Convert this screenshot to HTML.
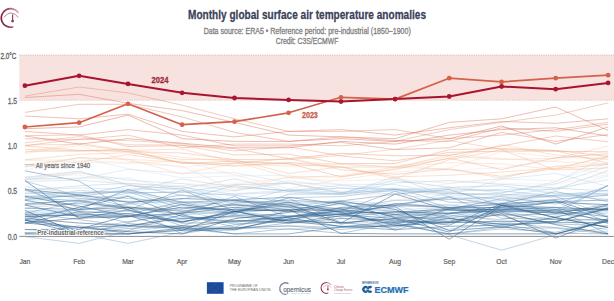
<!DOCTYPE html>
<html><head><meta charset="utf-8"><style>
html,body{margin:0;padding:0;background:#fff;width:614px;height:301px;overflow:hidden}
svg{display:block;font-family:"Liberation Sans",sans-serif}
</style></head><body>
<svg width="614" height="301" viewBox="0 0 614 301">
<rect x="19.3" y="55" width="595" height="45.4" fill="#f7e2df"/>
<line x1="19.3" y1="55" x2="614" y2="55" stroke="#bba5a3" stroke-width="0.7" stroke-dasharray="1,1.25"/>
<line x1="19.3" y1="100.3" x2="614" y2="100.3" stroke="#cdbab8" stroke-width="0.6" stroke-dasharray="1,1.25"/>
<g fill="none" stroke-width="0.75" stroke-linejoin="miter">
<polyline points="24.9,181.2 79.1,196.0 128.0,206.4 182.1,214.6 234.5,212.2 288.6,197.7 341.0,196.6 395.1,189.8 449.2,193.7 501.6,194.2 555.7,196.5 608.1,216.0" stroke="#235584" stroke-opacity="0.35"/><polyline points="24.9,170.8 79.1,181.1 128.0,210.2 182.1,223.2 234.5,222.2 288.6,217.5 341.0,207.3 395.1,205.0 449.2,197.7 501.6,205.0 555.7,199.4 608.1,195.2" stroke="#235584" stroke-opacity="0.50"/><polyline points="24.9,195.9 79.1,196.4 128.0,190.3 182.1,205.1 234.5,214.4 288.6,215.6 341.0,213.9 395.1,205.6 449.2,204.8 501.6,211.3 555.7,220.0 608.1,220.4" stroke="#235685" stroke-opacity="0.35"/><polyline points="24.9,190.5 79.1,198.3 128.0,202.1 182.1,219.5 234.5,213.7 288.6,198.0 341.0,222.5 395.1,219.1 449.2,215.0 501.6,219.8 555.7,209.2 608.1,209.0" stroke="#245685" stroke-opacity="0.35"/><polyline points="24.9,189.5 79.1,194.9 128.0,202.2 182.1,198.5 234.5,200.3 288.6,204.9 341.0,223.0 395.1,194.0 449.2,210.3 501.6,209.4 555.7,211.2 608.1,209.4" stroke="#466482" stroke-opacity="0.75"/><polyline points="24.9,200.3 79.1,209.4 128.0,207.6 182.1,211.2 234.5,204.9 288.6,209.4 341.0,211.2 395.1,206.7 449.2,239.3 501.6,205.8 555.7,217.6 608.1,227.5" stroke="#466482" stroke-opacity="0.75"/><polyline points="24.9,223.0 79.1,227.5 128.0,225.7 182.1,218.5 234.5,216.7 288.6,220.3 341.0,223.0 395.1,218.5 449.2,232.1 501.6,204.9 555.7,217.6 608.1,227.5" stroke="#245786" stroke-opacity="0.72"/><polyline points="24.9,216.4 79.1,209.9 128.0,203.5 182.1,195.0 234.5,201.2 288.6,206.9 341.0,224.3 395.1,214.7 449.2,221.7 501.6,223.9 555.7,233.3 608.1,233.9" stroke="#245786" stroke-opacity="0.45"/><polyline points="24.9,210.3 79.1,233.9 128.0,233.9 182.1,230.4 234.5,211.4 288.6,209.6 341.0,233.4 395.1,233.9 449.2,233.9 501.6,233.9 555.7,233.9 608.1,221.3" stroke="#245887" stroke-opacity="0.72"/><polyline points="24.9,214.5 79.1,215.5 128.0,214.1 182.1,201.8 234.5,204.8 288.6,207.4 341.0,208.5 395.1,230.3 449.2,213.8 501.6,208.0 555.7,209.1 608.1,233.9" stroke="#245887" stroke-opacity="0.45"/><polyline points="24.9,236.6 79.1,243.4 128.0,231.2 182.1,225.7 234.5,227.5 288.6,229.3 341.0,227.5 395.1,225.7 449.2,229.3 501.6,223.0 555.7,227.5 608.1,232.1" stroke="#78a0c3" stroke-opacity="0.60"/><polyline points="24.9,214.4 79.1,231.0 128.0,226.9 182.1,214.8 234.5,227.1 288.6,210.1 341.0,209.4 395.1,214.7 449.2,213.7 501.6,210.6 555.7,213.1 608.1,206.2" stroke="#255988" stroke-opacity="0.45"/><polyline points="24.9,223.0 79.1,211.7 128.0,213.7 182.1,222.2 234.5,212.0 288.6,202.1 341.0,212.3 395.1,225.5 449.2,222.6 501.6,221.2 555.7,221.6 608.1,207.9" stroke="#255988" stroke-opacity="0.72"/><polyline points="24.9,188.3 79.1,212.1 128.0,222.5 182.1,212.7 234.5,203.2 288.6,200.2 341.0,202.8 395.1,205.8 449.2,207.4 501.6,204.8 555.7,209.6 608.1,208.4" stroke="#255988" stroke-opacity="0.45"/><polyline points="24.9,223.1 79.1,218.1 128.0,216.9 182.1,204.5 234.5,211.4 288.6,221.3 341.0,226.3 395.1,226.2 449.2,218.4 501.6,224.5 555.7,221.9 608.1,208.6" stroke="#255a89" stroke-opacity="0.72"/><polyline points="24.9,233.9 79.1,233.9 128.0,228.5 182.1,225.7 234.5,229.7 288.6,222.9 341.0,222.3 395.1,228.5 449.2,207.8 501.6,213.4 555.7,223.9 608.1,225.9" stroke="#265a89" stroke-opacity="0.45"/><polyline points="24.9,229.3 79.1,233.9 128.0,243.4 182.1,232.1 234.5,227.5 288.6,225.7 341.0,227.5 395.1,223.0 449.2,234.8 501.6,250.2 555.7,234.8 608.1,227.5" stroke="#78a0c3" stroke-opacity="0.60"/><polyline points="24.9,215.5 79.1,233.9 128.0,230.6 182.1,214.9 234.5,224.0 288.6,220.0 341.0,209.5 395.1,204.5 449.2,196.6 501.6,218.3 555.7,219.2 608.1,219.6" stroke="#265b8a" stroke-opacity="0.45"/><polyline points="24.9,180.5 79.1,218.5 128.0,209.9 182.1,221.9 234.5,211.1 288.6,222.9 341.0,215.8 395.1,203.6 449.2,207.8 501.6,207.4 555.7,202.2 608.1,204.7" stroke="#265b8a" stroke-opacity="0.72"/><polyline points="24.9,203.6 79.1,200.5 128.0,209.8 182.1,190.1 234.5,211.0 288.6,205.7 341.0,212.4 395.1,212.8 449.2,208.4 501.6,209.9 555.7,207.3 608.1,223.6" stroke="#265b8a" stroke-opacity="0.45"/><polyline points="24.9,220.2 79.1,227.3 128.0,231.7 182.1,233.9 234.5,218.7 288.6,212.5 341.0,203.2 395.1,217.7 449.2,218.0 501.6,227.5 555.7,217.2 608.1,204.8" stroke="#265c8b" stroke-opacity="0.72"/><polyline points="24.9,204.3 79.1,200.2 128.0,207.4 182.1,226.0 234.5,208.7 288.6,211.4 341.0,217.1 395.1,212.0 449.2,209.1 501.6,198.7 555.7,213.4 608.1,204.0" stroke="#265c8b" stroke-opacity="0.45"/><polyline points="24.9,196.3 79.1,206.1 128.0,216.1 182.1,207.2 234.5,209.7 288.6,211.0 341.0,201.1 395.1,209.4 449.2,230.6 501.6,226.7 555.7,233.9 608.1,220.1" stroke="#275c8b" stroke-opacity="0.72"/><polyline points="24.9,216.6 79.1,215.1 128.0,207.4 182.1,209.3 234.5,200.1 288.6,206.4 341.0,200.9 395.1,194.2 449.2,189.5 501.6,205.6 555.7,201.8 608.1,222.1" stroke="#275d8c" stroke-opacity="0.45"/><polyline points="24.9,218.5 79.1,223.0 128.0,225.7 182.1,227.5 234.5,220.3 288.6,223.0 341.0,218.5 395.1,220.3 449.2,223.0 501.6,213.9 555.7,238.0 608.1,218.5" stroke="#466482" stroke-opacity="0.75"/><polyline points="24.9,233.9 79.1,225.8 128.0,233.9 182.1,229.5 234.5,228.1 288.6,226.1 341.0,229.5 395.1,224.7 449.2,209.3 501.6,215.1 555.7,214.3 608.1,210.1" stroke="#275d8c" stroke-opacity="0.45"/><polyline points="24.9,229.6 79.1,229.1 128.0,215.6 182.1,230.3 234.5,229.9 288.6,216.5 341.0,210.9 395.1,214.3 449.2,209.6 501.6,212.2 555.7,224.7 608.1,233.9" stroke="#275e8d" stroke-opacity="0.72"/><polyline points="24.9,212.9 79.1,219.6 128.0,226.1 182.1,228.5 234.5,233.9 288.6,228.7 341.0,233.3 395.1,223.3 449.2,233.9 501.6,227.2 555.7,228.1 608.1,233.9" stroke="#285e8d" stroke-opacity="0.45"/><polyline points="24.9,220.2 79.1,233.9 128.0,233.9 182.1,228.1 234.5,228.7 288.6,219.0 341.0,213.9 395.1,211.7 449.2,213.3 501.6,206.0 555.7,207.4 608.1,209.9" stroke="#285e8d" stroke-opacity="0.72"/><polyline points="24.9,213.3 79.1,201.7 128.0,208.4 182.1,213.5 234.5,196.6 288.6,217.5 341.0,210.9 395.1,191.3 449.2,207.8 501.6,203.7 555.7,191.7 608.1,201.5" stroke="#285f8e" stroke-opacity="0.45"/><polyline points="24.9,205.0 79.1,216.8 128.0,216.6 182.1,213.4 234.5,207.3 288.6,211.0 341.0,214.3 395.1,222.8 449.2,222.2 501.6,211.6 555.7,212.2 608.1,220.4" stroke="#285f8e" stroke-opacity="0.72"/><polyline points="24.9,205.0 79.1,203.8 128.0,207.2 182.1,233.9 234.5,224.8 288.6,220.1 341.0,207.7 395.1,211.1 449.2,217.0 501.6,215.4 555.7,233.9 608.1,221.0" stroke="#2c6392" stroke-opacity="0.45"/><polyline points="24.9,220.0 79.1,207.3 128.0,196.3 182.1,216.5 234.5,221.6 288.6,216.6 341.0,214.7 395.1,218.4 449.2,225.2 501.6,203.6 555.7,200.6 608.1,217.2" stroke="#2f6797" stroke-opacity="0.72"/><polyline points="24.9,199.4 79.1,194.9 128.0,185.7 182.1,188.9 234.5,204.5 288.6,203.9 341.0,223.3 395.1,222.4 449.2,216.2 501.6,208.0 555.7,213.7 608.1,211.8" stroke="#326b9b" stroke-opacity="0.35"/><polyline points="24.9,217.0 79.1,214.1 128.0,216.0 182.1,221.4 234.5,215.3 288.6,217.9 341.0,226.5 395.1,229.7 449.2,226.3 501.6,225.3 555.7,222.6 608.1,222.4" stroke="#366f9f" stroke-opacity="0.72"/><polyline points="24.9,219.7 79.1,229.8 128.0,221.7 182.1,212.0 234.5,211.8 288.6,216.8 341.0,214.3 395.1,224.5 449.2,233.9 501.6,228.9 555.7,232.2 608.1,220.4" stroke="#3a73a4" stroke-opacity="0.45"/><polyline points="24.9,233.9 79.1,233.9 128.0,223.7 182.1,226.9 234.5,233.9 288.6,233.9 341.0,227.0 395.1,221.5 449.2,221.2 501.6,210.3 555.7,210.7 608.1,216.8" stroke="#3d77a8" stroke-opacity="0.72"/><polyline points="24.9,193.2 79.1,192.6 128.0,191.8 182.1,208.6 234.5,210.1 288.6,203.9 341.0,208.8 395.1,200.3 449.2,199.6 501.6,196.6 555.7,204.1 608.1,185.7" stroke="#407bac" stroke-opacity="0.50"/><polyline points="24.9,208.3 79.1,209.3 128.0,189.4 182.1,202.4 234.5,199.7 288.6,197.3 341.0,203.9 395.1,217.1 449.2,213.3 501.6,209.9 555.7,201.7 608.1,200.0" stroke="#447fb0" stroke-opacity="0.72"/><polyline points="24.9,200.2 79.1,199.0 128.0,201.1 182.1,203.6 234.5,207.4 288.6,202.0 341.0,213.2 395.1,215.9 449.2,212.1 501.6,222.0 555.7,219.0 608.1,230.1" stroke="#4883b5" stroke-opacity="0.35"/><polyline points="24.9,199.3 79.1,195.4 128.0,198.5 182.1,202.1 234.5,214.0 288.6,194.1 341.0,194.0 395.1,189.0 449.2,202.2 501.6,203.5 555.7,212.8 608.1,185.4" stroke="#4b87b9" stroke-opacity="0.50"/><polyline points="24.9,207.9 79.1,203.2 128.0,195.5 182.1,211.3 234.5,220.9 288.6,220.1 341.0,216.2 395.1,220.1 449.2,210.2 501.6,202.6 555.7,195.0 608.1,190.0" stroke="#518cbc" stroke-opacity="0.35"/><polyline points="24.9,190.0 79.1,208.0 128.0,211.4 182.1,217.9 234.5,221.8 288.6,215.8 341.0,211.8 395.1,205.6 449.2,219.1 501.6,223.5 555.7,216.0 608.1,213.2" stroke="#5790c0" stroke-opacity="0.35"/><polyline points="24.9,196.3 79.1,201.7 128.0,193.2 182.1,192.0 234.5,195.3 288.6,202.1 341.0,201.9 395.1,222.3 449.2,218.8 501.6,208.2 555.7,210.1 608.1,185.8" stroke="#5d95c4" stroke-opacity="0.50"/><polyline points="24.9,214.6 79.1,211.9 128.0,211.1 182.1,204.6 234.5,199.9 288.6,202.7 341.0,210.9 395.1,209.5 449.2,208.0 501.6,200.5 555.7,199.8 608.1,207.6" stroke="#639ac7" stroke-opacity="0.35"/><polyline points="24.9,212.2 79.1,213.7 128.0,217.0 182.1,212.7 234.5,212.9 288.6,209.2 341.0,204.6 395.1,207.9 449.2,192.2 501.6,200.2 555.7,195.5 608.1,199.1" stroke="#699eca" stroke-opacity="0.35"/><polyline points="24.9,211.0 79.1,210.7 128.0,204.5 182.1,199.3 234.5,185.7 288.6,191.1 341.0,188.0 395.1,189.4 449.2,188.8 501.6,190.9 555.7,196.1 608.1,194.6" stroke="#6fa3ce" stroke-opacity="0.50"/><polyline points="24.9,186.4 79.1,194.6 128.0,191.6 182.1,178.9 234.5,187.4 288.6,190.7 341.0,185.4 395.1,189.3 449.2,196.2 501.6,192.7 555.7,183.8 608.1,166.5" stroke="#75a8d2" stroke-opacity="0.35"/><polyline points="24.9,179.6 79.1,172.8 128.0,180.2 182.1,183.6 234.5,190.5 288.6,182.8 341.0,192.2 395.1,188.2 449.2,192.7 501.6,195.9 555.7,188.3 608.1,179.8" stroke="#7badd5" stroke-opacity="0.35"/><polyline points="24.9,197.7 79.1,190.6 128.0,192.6 182.1,192.2 234.5,184.7 288.6,183.2 341.0,193.0 395.1,180.3 449.2,187.3 501.6,185.8 555.7,193.7 608.1,193.8" stroke="#81b1d8" stroke-opacity="0.50"/><polyline points="24.9,177.4 79.1,171.1 128.0,184.8 182.1,195.4 234.5,202.7 288.6,189.3 341.0,192.4 395.1,191.2 449.2,191.3 501.6,189.3 555.7,189.3 608.1,170.6" stroke="#87b6dc" stroke-opacity="0.50"/><polyline points="24.9,190.3 79.1,185.9 128.0,183.2 182.1,187.2 234.5,194.4 288.6,191.9 341.0,194.7 395.1,182.8 449.2,180.6 501.6,184.3 555.7,188.1 608.1,191.1" stroke="#8fbbde" stroke-opacity="0.50"/><polyline points="24.9,197.8 79.1,193.5 128.0,190.2 182.1,188.8 234.5,178.8 288.6,191.3 341.0,193.7 395.1,177.1 449.2,197.0 501.6,198.9 555.7,195.3 608.1,193.0" stroke="#98c0e0" stroke-opacity="0.50"/><polyline points="24.9,190.2 79.1,187.9 128.0,189.2 182.1,186.1 234.5,201.9 288.6,204.4 341.0,200.3 395.1,204.3 449.2,205.9 501.6,195.7 555.7,197.8 608.1,190.4" stroke="#a0c5e2" stroke-opacity="0.50"/><polyline points="24.9,181.3 79.1,180.1 128.0,184.1 182.1,195.6 234.5,193.8 288.6,190.1 341.0,194.3 395.1,193.6 449.2,187.1 501.6,193.1 555.7,181.8 608.1,156.2" stroke="#a8cae4" stroke-opacity="0.50"/><polyline points="24.9,178.3 79.1,178.8 128.0,169.3 182.1,173.3 234.5,172.7 288.6,182.8 341.0,184.3 395.1,184.5 449.2,194.9 501.6,179.2 555.7,173.4 608.1,186.3" stroke="#b1cfe6" stroke-opacity="0.50"/><polyline points="24.9,179.8 79.1,177.8 128.0,178.0 182.1,191.2 234.5,191.1 288.6,180.5 341.0,188.0 395.1,194.5 449.2,199.3 501.6,200.3 555.7,190.4 608.1,175.8" stroke="#b9d4e8" stroke-opacity="0.50"/><polyline points="24.9,170.0 79.1,157.2 128.0,168.7 182.1,177.7 234.5,175.9 288.6,175.3 341.0,185.1 395.1,190.8 449.2,183.6 501.6,178.9 555.7,180.8 608.1,163.1" stroke="#d0dce6" stroke-opacity="0.50"/><polyline points="24.9,159.2 79.1,160.4 128.0,162.3 182.1,167.3 234.5,162.4 288.6,158.2 341.0,167.3 395.1,163.8 449.2,170.6 501.6,167.6 555.7,160.6 608.1,150.9" stroke="#e8e4e4" stroke-opacity="0.60"/><polyline points="24.9,177.0 79.1,174.9 128.0,185.6 182.1,183.4 234.5,187.5 288.6,183.5 341.0,191.0 395.1,200.0 449.2,191.0 501.6,183.7 555.7,184.2 608.1,174.6" stroke="#eddfd7" stroke-opacity="0.60"/><polyline points="24.9,177.8 79.1,172.6 128.0,183.9 182.1,186.0 234.5,184.0 288.6,177.9 341.0,181.1 395.1,179.2 449.2,183.2 501.6,178.3 555.7,166.2 608.1,173.7" stroke="#f1dbc9" stroke-opacity="0.60"/><polyline points="24.9,160.3 79.1,162.1 128.0,163.4 182.1,160.8 234.5,174.9 288.6,188.7 341.0,179.3 395.1,172.2 449.2,168.0 501.6,151.7 555.7,157.2 608.1,159.0" stroke="#f6d6bc" stroke-opacity="0.60"/><polyline points="24.9,153.5 79.1,145.5 128.0,161.0 182.1,166.3 234.5,190.1 288.6,176.7 341.0,177.2 395.1,168.4 449.2,154.2 501.6,158.6 555.7,161.6 608.1,163.8" stroke="#f6d2b6" stroke-opacity="0.60"/><polyline points="24.9,165.0 79.1,157.8 128.0,159.3 182.1,162.1 234.5,166.6 288.6,162.9 341.0,163.7 395.1,167.4 449.2,162.7 501.6,163.8 555.7,169.7 608.1,155.3" stroke="#f5cdaf" stroke-opacity="0.60"/><polyline points="24.9,166.8 79.1,157.9 128.0,159.2 182.1,174.0 234.5,163.4 288.6,166.2 341.0,164.4 395.1,167.1 449.2,169.3 501.6,178.0 555.7,165.9 608.1,164.2" stroke="#f5c9a9" stroke-opacity="0.60"/><polyline points="24.9,151.5 79.1,151.5 128.0,149.5 182.1,157.5 234.5,161.4 288.6,177.5 341.0,175.8 395.1,167.0 449.2,156.2 501.6,159.4 555.7,158.5 608.1,146.0" stroke="#f5c5a3" stroke-opacity="0.60"/><polyline points="24.9,152.4 79.1,143.3 128.0,150.4 182.1,149.1 234.5,162.1 288.6,164.1 341.0,167.3 395.1,167.0 449.2,158.7 501.6,144.6 555.7,155.1 608.1,159.3" stroke="#f4c09c" stroke-opacity="0.60"/><polyline points="24.9,159.8 79.1,154.4 128.0,152.7 182.1,159.5 234.5,159.6 288.6,173.5 341.0,166.8 395.1,176.9 449.2,175.3 501.6,172.0 555.7,168.1 608.1,156.8" stroke="#f4bc96" stroke-opacity="0.60"/><polyline points="24.9,166.7 79.1,162.3 128.0,154.6 182.1,162.4 234.5,165.6 288.6,162.4 341.0,167.0 395.1,178.6 449.2,159.7 501.6,149.8 555.7,170.0 608.1,167.9" stroke="#f3b691" stroke-opacity="0.60"/><polyline points="24.9,145.1 79.1,144.3 128.0,151.5 182.1,163.0 234.5,163.5 288.6,158.6 341.0,169.6 395.1,174.4 449.2,168.9 501.6,176.4 555.7,168.7 608.1,164.4" stroke="#f1b08b" stroke-opacity="0.60"/><polyline points="24.9,146.0 79.1,150.3 128.0,151.6 182.1,153.0 234.5,159.5 288.6,159.6 341.0,155.4 395.1,149.2 449.2,140.4 501.6,149.5 555.7,150.8 608.1,163.2" stroke="#f0aa86" stroke-opacity="0.60"/><polyline points="24.9,149.6 79.1,150.7 128.0,149.6 182.1,163.5 234.5,161.1 288.6,163.6 341.0,176.7 395.1,169.5 449.2,158.1 501.6,169.6 555.7,157.7 608.1,153.8" stroke="#efa481" stroke-opacity="0.60"/><polyline points="24.9,142.9 79.1,136.6 128.0,144.8 182.1,145.0 234.5,155.0 288.6,154.1 341.0,163.6 395.1,163.4 449.2,149.7 501.6,148.5 555.7,150.4 608.1,156.5" stroke="#ed9e7b" stroke-opacity="0.60"/><polyline points="24.9,145.7 79.1,139.0 128.0,140.6 182.1,143.8 234.5,150.9 288.6,146.7 341.0,155.9 395.1,160.8 449.2,152.4 501.6,151.1 555.7,151.2 608.1,151.9" stroke="#ec9876" stroke-opacity="0.60"/><polyline points="24.9,135.7 79.1,134.9 128.0,146.5 182.1,145.6 234.5,148.6 288.6,158.6 341.0,153.3 395.1,155.8 449.2,155.4 501.6,146.0 555.7,136.0 608.1,141.8" stroke="#e99271" stroke-opacity="0.60"/><polyline points="24.9,138.7 79.1,139.6 128.0,135.1 182.1,147.8 234.5,144.1 288.6,144.1 341.0,145.9 395.1,141.4 449.2,129.6 501.6,122.4 555.7,115.1 608.1,102.9" stroke="#e68c6d" stroke-opacity="0.60"/><polyline points="24.9,96.1 79.1,87.0 128.0,92.9 182.1,105.2 234.5,118.8 288.6,131.4 341.0,131.4 395.1,129.6 449.2,138.7 501.6,135.1 555.7,129.6 608.1,122.4" stroke="#e38668" stroke-opacity="0.60"/><polyline points="24.9,112.4 79.1,104.3 128.0,104.3 182.1,116.9 234.5,132.4 288.6,141.4 341.0,136.9 395.1,140.5 449.2,141.4 501.6,127.8 555.7,131.4 608.1,124.2" stroke="#e08063" stroke-opacity="0.60"/><polyline points="24.9,131.4 79.1,135.1 128.0,129.6 182.1,135.1 234.5,145.9 288.6,145.9 341.0,142.3 395.1,149.6 449.2,147.8 501.6,132.4 555.7,141.4 608.1,134.5" stroke="#de7a5f" stroke-opacity="0.60"/><polyline points="24.9,116.0 79.1,118.8 128.0,114.2 182.1,131.4 234.5,136.9 288.6,131.4 341.0,129.6 395.1,135.1 449.2,127.8 501.6,121.5 555.7,123.3 608.1,118.8" stroke="#db745a" stroke-opacity="0.60"/><polyline points="24.9,97.5 79.1,94.3 128.0,103.3 182.1,110.6 234.5,122.4 288.6,135.1 341.0,136.9 395.1,138.7 449.2,122.4 501.6,118.8 555.7,107.0 608.1,130.5" stroke="#d86e55" stroke-opacity="0.60"/><polyline points="24.9,136.0 79.1,144.1 128.0,138.7 182.1,143.2 234.5,147.8 288.6,147.8 341.0,141.4 395.1,144.1 449.2,135.1 501.6,129.6 555.7,127.8 608.1,136.0" stroke="#d56851" stroke-opacity="0.60"/><polyline points="24.9,128.7 79.1,126.9 128.0,115.1 182.1,138.7 234.5,141.4 288.6,141.4 341.0,138.7 395.1,141.4 449.2,138.7 501.6,126.0 555.7,144.1 608.1,126.9" stroke="#d2624c" stroke-opacity="0.60"/>
</g>
<line x1="19.3" y1="236.4" x2="614" y2="236.4" stroke="#8c8c8c" stroke-width="1"/>
<g fill="none" stroke-linejoin="round">
<polyline points="24.9,127.0 79.1,122.7 128.0,103.8 182.1,124.7 234.5,121.7 288.6,112.8 341.0,97.3 395.1,99.1 449.2,78.2 501.6,81.9 555.7,78.2 608.1,75.2" stroke="#d4614a" stroke-width="1.7"/>
<polyline points="24.9,85.7 79.1,75.8 128.0,83.9 182.1,92.8 234.5,98.0 288.6,99.9 341.0,101.6 395.1,99.1 449.2,96.5 501.6,86.5 555.7,89.2 608.1,82.9" stroke="#a8142e" stroke-width="2"/>
</g>
<circle cx="24.9" cy="127.0" r="2.4" fill="#d4614a"/><circle cx="79.1" cy="122.7" r="2.4" fill="#d4614a"/><circle cx="128.0" cy="103.8" r="2.4" fill="#d4614a"/><circle cx="182.1" cy="124.7" r="2.4" fill="#d4614a"/><circle cx="234.5" cy="121.7" r="2.4" fill="#d4614a"/><circle cx="288.6" cy="112.8" r="2.4" fill="#d4614a"/><circle cx="341.0" cy="97.3" r="2.4" fill="#d4614a"/><circle cx="395.1" cy="99.1" r="2.4" fill="#d4614a"/><circle cx="449.2" cy="78.2" r="2.4" fill="#d4614a"/><circle cx="501.6" cy="81.9" r="2.4" fill="#d4614a"/><circle cx="555.7" cy="78.2" r="2.4" fill="#d4614a"/><circle cx="608.1" cy="75.2" r="2.4" fill="#d4614a"/>
<circle cx="24.9" cy="85.7" r="2.4" fill="#a8172f"/><circle cx="79.1" cy="75.8" r="2.4" fill="#a8172f"/><circle cx="128.0" cy="83.9" r="2.4" fill="#a8172f"/><circle cx="182.1" cy="92.8" r="2.4" fill="#a8172f"/><circle cx="234.5" cy="98.0" r="2.4" fill="#a8172f"/><circle cx="288.6" cy="99.9" r="2.4" fill="#a8172f"/><circle cx="341.0" cy="101.6" r="2.4" fill="#a8172f"/><circle cx="395.1" cy="99.1" r="2.4" fill="#a8172f"/><circle cx="449.2" cy="96.5" r="2.4" fill="#a8172f"/><circle cx="501.6" cy="86.5" r="2.4" fill="#a8172f"/><circle cx="555.7" cy="89.2" r="2.4" fill="#a8172f"/><circle cx="608.1" cy="82.9" r="2.4" fill="#a8172f"/>
<text transform="translate(0.40,58.70) scale(0.760,1)" font-size="8.40" font-weight="normal" text-anchor="start" fill="#606060" stroke="#606060" stroke-width="0.30">2.0°C</text>
<text transform="translate(17.10,103.60) scale(0.820,1)" font-size="8.30" font-weight="normal" text-anchor="end" fill="#666" stroke="#666" stroke-width="0.25">1.5</text>
<text transform="translate(17.10,149.00) scale(0.820,1)" font-size="8.30" font-weight="normal" text-anchor="end" fill="#666" stroke="#666" stroke-width="0.25">1.0</text>
<text transform="translate(17.10,194.30) scale(0.820,1)" font-size="8.30" font-weight="normal" text-anchor="end" fill="#666" stroke="#666" stroke-width="0.25">0.5</text>
<text transform="translate(17.10,239.80) scale(0.820,1)" font-size="8.30" font-weight="normal" text-anchor="end" fill="#666" stroke="#666" stroke-width="0.25">0.0</text>
<text transform="translate(24.90,264.40) scale(0.840,1)" font-size="8.10" font-weight="normal" text-anchor="middle" fill="#606060" stroke="#606060" stroke-width="0.20">Jan</text><text transform="translate(79.10,264.40) scale(0.840,1)" font-size="8.10" font-weight="normal" text-anchor="middle" fill="#606060" stroke="#606060" stroke-width="0.20">Feb</text><text transform="translate(128.00,264.40) scale(0.840,1)" font-size="8.10" font-weight="normal" text-anchor="middle" fill="#606060" stroke="#606060" stroke-width="0.20">Mar</text><text transform="translate(182.10,264.40) scale(0.840,1)" font-size="8.10" font-weight="normal" text-anchor="middle" fill="#606060" stroke="#606060" stroke-width="0.20">Apr</text><text transform="translate(234.50,264.40) scale(0.840,1)" font-size="8.10" font-weight="normal" text-anchor="middle" fill="#606060" stroke="#606060" stroke-width="0.20">May</text><text transform="translate(288.60,264.40) scale(0.840,1)" font-size="8.10" font-weight="normal" text-anchor="middle" fill="#606060" stroke="#606060" stroke-width="0.20">Jun</text><text transform="translate(341.00,264.40) scale(0.840,1)" font-size="8.10" font-weight="normal" text-anchor="middle" fill="#606060" stroke="#606060" stroke-width="0.20">Jul</text><text transform="translate(395.10,264.40) scale(0.840,1)" font-size="8.10" font-weight="normal" text-anchor="middle" fill="#606060" stroke="#606060" stroke-width="0.20">Aug</text><text transform="translate(449.20,264.40) scale(0.840,1)" font-size="8.10" font-weight="normal" text-anchor="middle" fill="#606060" stroke="#606060" stroke-width="0.20">Sep</text><text transform="translate(501.60,264.40) scale(0.840,1)" font-size="8.10" font-weight="normal" text-anchor="middle" fill="#606060" stroke="#606060" stroke-width="0.20">Oct</text><text transform="translate(555.70,264.40) scale(0.840,1)" font-size="8.10" font-weight="normal" text-anchor="middle" fill="#606060" stroke="#606060" stroke-width="0.20">Nov</text><text transform="translate(608.10,264.40) scale(0.840,1)" font-size="8.10" font-weight="normal" text-anchor="middle" fill="#606060" stroke="#606060" stroke-width="0.20">Dec</text>
<text transform="translate(151.40,82.70) scale(0.860,1)" font-size="8.90" font-weight="bold" text-anchor="start" fill="#a02a3c" stroke="#a02a3c" stroke-width="0.30">2024</text>
<text transform="translate(302.00,117.70) scale(0.800,1)" font-size="8.90" font-weight="bold" text-anchor="start" fill="#c8604e" stroke="#c8604e" stroke-width="0.30">2023</text>
<line x1="24.5" y1="164.6" x2="34.5" y2="164.6" stroke="#c8c8c8" stroke-width="1.2"/><text transform="translate(35.80,168.00) scale(0.846,1)" font-size="7.20" font-weight="normal" text-anchor="start" fill="#fff" stroke="#fff" stroke-width="2.2" stroke-linejoin="round" stroke-opacity="0.9">All years since 1940</text><text transform="translate(35.80,168.00) scale(0.846,1)" font-size="7.20" font-weight="normal" text-anchor="start" fill="#777" stroke="#777" stroke-width="0.30">All years since 1940</text>
<line x1="24.5" y1="232.6" x2="35.5" y2="232.6" stroke="#b0bcc6" stroke-width="1.2"/><text transform="translate(37.20,234.80) scale(0.850,1)" font-size="7.00" font-weight="bold" text-anchor="start" fill="#fff" stroke="#fff" stroke-width="2.2" stroke-linejoin="round" stroke-opacity="0.9">Pre-industrial reference</text><text transform="translate(37.20,234.80) scale(0.850,1)" font-size="7.00" font-weight="bold" text-anchor="start" fill="#666" stroke="#666" stroke-width="0.05">Pre-industrial reference</text>
<text transform="translate(307.00,18.90) scale(0.840,1)" font-size="12.00" font-weight="bold" text-anchor="middle" fill="#3b4159" stroke="#3b4159" stroke-width="0.25">Monthly global surface air temperature anomalies</text>
<text transform="translate(307.20,34.30) scale(0.810,1)" font-size="8.70" font-weight="normal" text-anchor="middle" fill="#7e7e7e" stroke="#7e7e7e" stroke-width="0.30">Data source: ERA5 • Reference period: pre-industrial (1850–1900)</text>
<text transform="translate(307.00,44.00) scale(0.780,1)" font-size="8.70" font-weight="normal" text-anchor="middle" fill="#7e7e7e" stroke="#7e7e7e" stroke-width="0.30">Credit: C3S/ECMWF</text>
<g id="c3sicon">
<defs><linearGradient id="ga" gradientUnits="userSpaceOnUse" x1="1" y1="18" x2="19" y2="14"><stop offset="0" stop-color="#801c44"/><stop offset="0.5" stop-color="#a04a6c"/><stop offset="1" stop-color="#dcb0c2"/></linearGradient></defs>
<path d="M18,12.3 A9.3,9.3 0 1 0 12.6,27.0" fill="none" stroke="url(#ga)" stroke-width="1.7" stroke-linecap="round"/>
<path d="M3.8,17.3 Q7.5,13 10.8,12.9 Q15.5,13.2 18.3,17.6" fill="none" stroke="#a06078" stroke-width="0.75"/>
<line x1="12.6" y1="14.5" x2="12.6" y2="20.4" stroke="#9a3c62" stroke-width="1.2"/>
<circle cx="12.6" cy="21.1" r="1.45" fill="#9a3c62"/>
</g>
<g id="eu">
<rect x="206.9" y="282.2" width="16.7" height="11.6" fill="#1b4b9b"/>
<circle cx="215.2" cy="288" r="3.3" fill="none" stroke="#b8a850" stroke-width="0.6" stroke-dasharray="0.6,1.1" opacity="0.6"/>
<text x="229.7" y="287.2" font-size="3.5" fill="#6a6a6a" textLength="27.9" lengthAdjust="spacingAndGlyphs">PROGRAMME OF</text>
<text x="229.7" y="291.3" font-size="3.5" fill="#6a6a6a" textLength="41" lengthAdjust="spacingAndGlyphs">THE EUROPEAN UNION</text>
</g>
<g id="copernicus">
<path d="M288.5,283.6 A5.8,5.8 0 1 0 286.5,294.3" fill="none" stroke="#7d8a9c" stroke-width="1.3"/>
<text x="283.2" y="292" font-size="7.6" fill="#4d5a6c" stroke="#4d5a6c" stroke-width="0.1" textLength="27.8" lengthAdjust="spacingAndGlyphs">opernicus</text>
<text x="291.5" y="294.4" font-size="2.2" fill="#9aa" textLength="19" lengthAdjust="spacingAndGlyphs">Europe's eyes on Earth</text>
</g>
<g id="c3s">
<g transform="translate(320.9,277.8) scale(0.555)">
<path d="M17.9,12.6 A9.7,9.7 0 1 0 12.8,27.6" fill="none" stroke="url(#ga)" stroke-width="1.9" stroke-linecap="round"/>
<path d="M3.8,17.3 Q7.5,13 10.8,12.9 Q15.5,13.2 18.3,17.6" fill="none" stroke="#c07090" stroke-width="0.9"/>
<line x1="12.6" y1="14.5" x2="12.6" y2="20.4" stroke="#a83c66" stroke-width="1.5"/>
<circle cx="12.6" cy="21.1" r="1.7" fill="#a83c66"/>
</g>
<text x="334" y="287.7" font-size="3.5" fill="#b8587c" textLength="9.8" lengthAdjust="spacingAndGlyphs">Climate</text>
<text x="334" y="291.2" font-size="3.5" fill="#b8587c" textLength="18.5" lengthAdjust="spacingAndGlyphs">Change Service</text>
<text x="334" y="294.2" font-size="2.2" fill="#999" textLength="17" lengthAdjust="spacingAndGlyphs">Implemented by ECMWF</text>
</g>
<g id="ecmwf">
<text x="362.1" y="283.7" font-size="2.6" fill="#3a5a88" stroke="#3a5a88" stroke-width="0.1" textLength="16.7" lengthAdjust="spacingAndGlyphs">IMPLEMENTED BY</text>
<path d="M367.2,287.6 A2.35,2.35 0 1 0 367.2,291.2" fill="none" stroke="#1b5f9e" stroke-width="2.3"/>
<path d="M371.6,287.6 A2.35,2.35 0 1 0 371.6,291.2" fill="none" stroke="#1b5f9e" stroke-width="2.3"/>
<path d="M365.2,289.5 Q366.4,288.7 367.6,289.4 Q368.8,290.1 370.2,289.4" fill="none" stroke="#fff" stroke-width="0.55"/>
<text x="374.4" y="292.9" font-size="8.9" font-weight="bold" fill="#2370b2" stroke="#2370b2" stroke-width="0.2" textLength="34.2" lengthAdjust="spacingAndGlyphs">ECMWF</text>
</g>
</svg>
</body></html>
